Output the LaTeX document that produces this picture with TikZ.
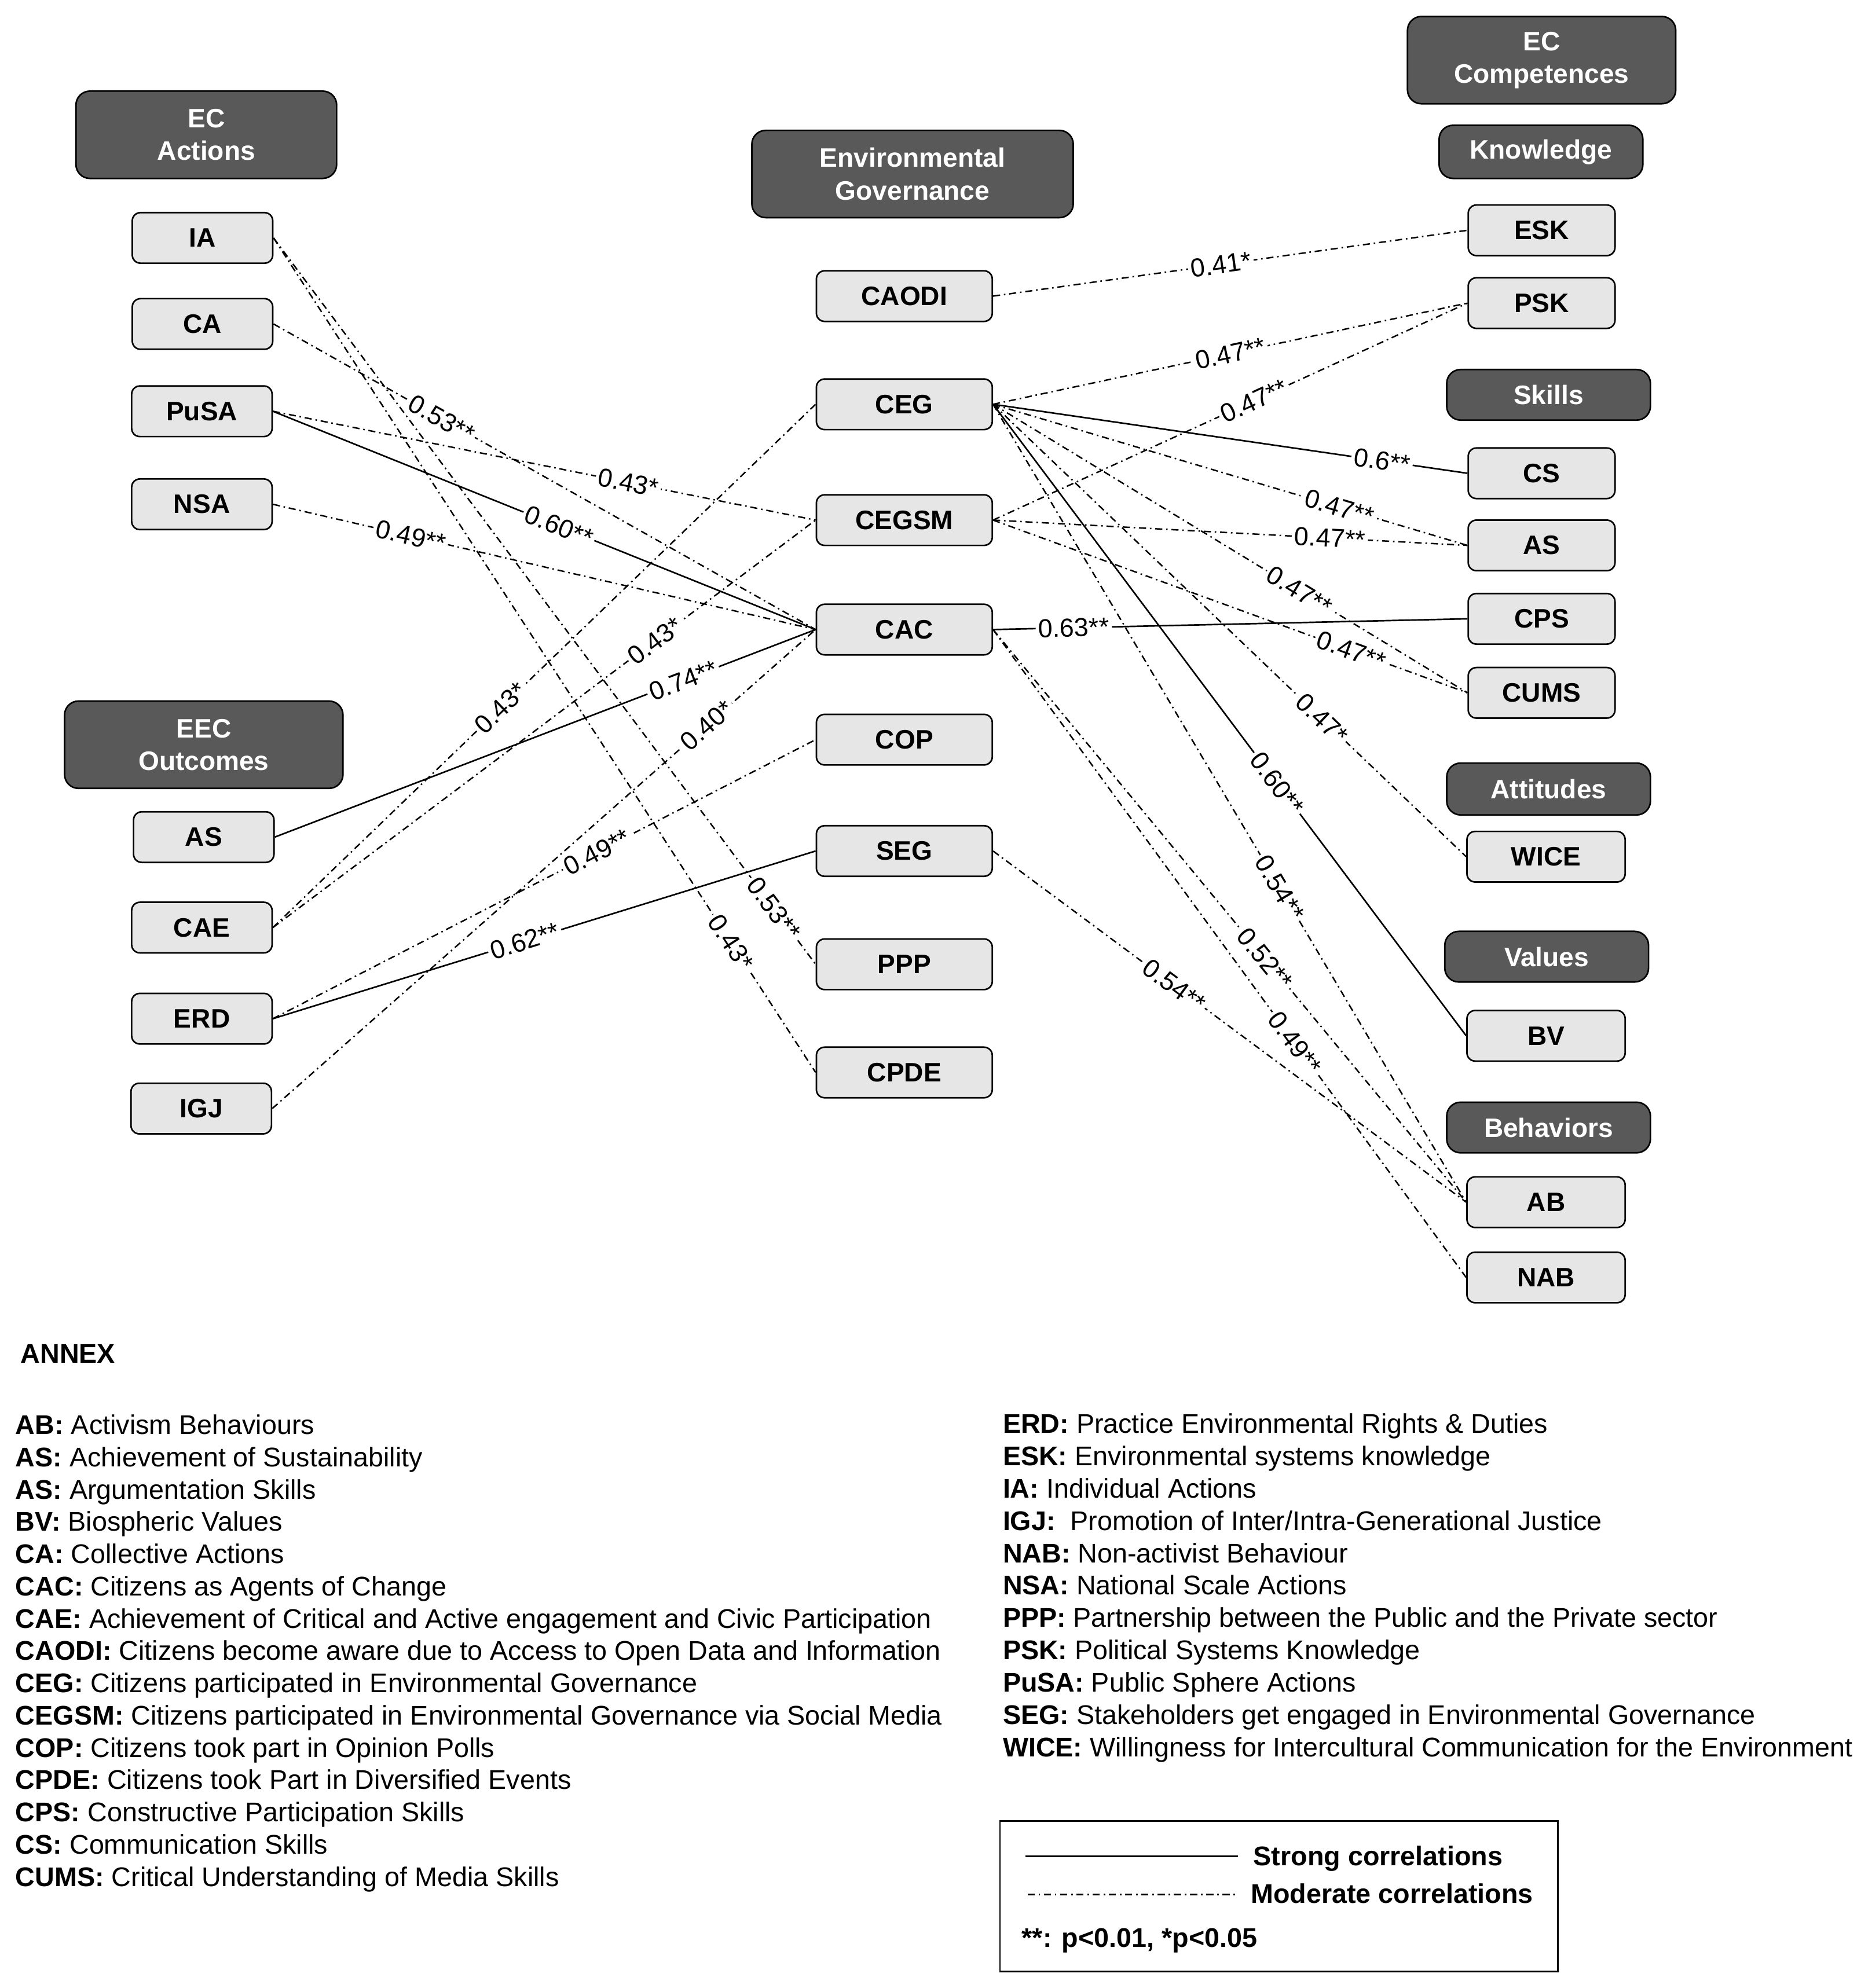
\documentclass[tikz,border=0pt]{standalone}
\usepackage{fontspec}
\setmainfont{Liberation Sans}
\definecolor{hdrgray}{RGB}{89,89,89}
\definecolor{itemgray}{RGB}{231,230,230}
\begin{document}
\begin{tikzpicture}[x=0.02cm,y=-0.02cm,
  hdr/.style={draw=black, line width=0.7pt, fill=hdrgray, rounded corners=0.22cm, text=white,
    font=\bfseries\fontsize{12}{14.6}\selectfont, align=center, inner sep=0pt},
  item/.style={draw=black, line width=0.7pt, fill=itemgray, rounded corners=0.13cm,
    font=\bfseries\fontsize{12}{14}\selectfont, inner sep=0pt, minimum height=0.8cm},
  lcol/.style={item, minimum width=2.22cm},
  mcol/.style={item, minimum width=2.78cm},
  rcol/.style={item, minimum width=2.32cm},
  rcolb/.style={item, minimum width=2.50cm},
  strong/.style={line width=0.7pt},
  moderate/.style={line width=0.65pt, dash pattern=on 3.2pt off 1.7pt on 0.7pt off 1.7pt},
  lbl/.style={fill=white, inner sep=1.2pt, font=\fontsize{11.7}{14}\selectfont, sloped},
  annex/.style={anchor=base west, inner sep=0pt, font=\fontsize{12.15}{14}\selectfont}
]
\useasboundingbox (0,0) rectangle (1470.3,1571);

% headers
\node[hdr, minimum width=4.12cm, minimum height=1.38cm] (ECA) at (163,106.5) {EC\\Actions};
\node[hdr, minimum width=4.40cm, minimum height=1.38cm] (EECO) at (161,588.5) {EEC\\Outcomes};
\node[hdr, minimum width=5.08cm, minimum height=1.38cm] (EG) at (721,137.5) {Environmental\\Governance};
\node[hdr, minimum width=4.24cm, minimum height=1.38cm] (ECC) at (1218,47.5) {EC\\Competences};
\node[hdr, minimum width=3.22cm, minimum height=0.84cm] (KNOW) at (1217.5,120) {Knowledge};
\node[hdr, minimum width=3.22cm, minimum height=0.80cm] (SKL) at (1223.5,312) {Skills};
\node[hdr, minimum width=3.22cm, minimum height=0.82cm] (ATT) at (1223.5,623.5) {Attitudes};
\node[hdr, minimum width=3.22cm, minimum height=0.80cm] (VAL) at (1222,756) {Values};
\node[hdr, minimum width=3.22cm, minimum height=0.80cm] (BEH) at (1223.5,891) {Behaviors};

% left column
\node[lcol] (IA) at (160,188) {IA};
\node[lcol] (CA) at (160,256) {CA};
\node[lcol] (PuSA) at (159.5,325) {PuSA};
\node[lcol] (NSA) at (159.5,398.5) {NSA};
\node[lcol] (ASa) at (161,661.5) {AS};
\node[lcol] (CAE) at (159.5,733) {CAE};
\node[lcol] (ERD) at (159.5,805) {ERD};
\node[lcol] (IGJ) at (159,876) {IGJ};

% middle column
\node[mcol] (CAODI) at (714.5,234) {CAODI};
\node[mcol] (CEG) at (714.5,319.5) {CEG};
\node[mcol] (CEGSM) at (714.5,411) {CEGSM};
\node[mcol] (CAC) at (714.5,497.5) {CAC};
\node[mcol] (COP) at (714.5,584.5) {COP};
\node[mcol] (SEG) at (714.5,672.5) {SEG};
\node[mcol] (PPP) at (714.5,762) {PPP};
\node[mcol] (CPDE) at (714.5,847.5) {CPDE};

% right column
\node[rcol] (ESK) at (1218,182) {ESK};
\node[rcol] (PSK) at (1218,239.5) {PSK};
\node[rcol] (CS) at (1218,374) {CS};
\node[rcol] (ASb) at (1218,431) {AS};
\node[rcol] (CPS) at (1218,489) {CPS};
\node[rcol] (CUMS) at (1218,547.5) {CUMS};
\node[rcolb] (WICE) at (1221.5,677) {WICE};
\node[rcolb] (BV) at (1221.5,818.5) {BV};
\node[rcolb] (AB) at (1221.5,950) {AB};
\node[rcolb] (NAB) at (1221.5,1009.5) {NAB};

% left connectors
\draw[moderate] (CA.east) -- node[lbl,pos=0.31]{0.53**} (CAC.west);
\draw[moderate] (PuSA.east) -- node[lbl,pos=0.655]{0.43*} (CEGSM.west);
\draw[strong] (PuSA.east) -- node[lbl,pos=0.527]{0.60**} (CAC.west);
\draw[moderate] (NSA.east) -- node[lbl,pos=0.254]{0.49**} (CAC.west);
\draw[moderate] (IA.east) -- node[lbl,pos=0.923]{0.53**} (PPP.west);
\draw[moderate] (IA.east) -- node[lbl,pos=0.844]{0.43*} (CPDE.west);
\draw[strong] (ASa.east) -- node[lbl,pos=0.755]{0.74**} (CAC.west);
\draw[moderate] (CAE.east) -- node[lbl,pos=0.42]{0.43*} (CEG.west);
\draw[moderate] (CAE.east) -- node[lbl,pos=0.704]{0.43*} (CEGSM.west);
\draw[moderate] (IGJ.east) -- node[lbl,pos=0.80]{0.40*} (CAC.west);
\draw[moderate] (ERD.east) -- node[lbl,pos=0.597]{0.49**} (COP.west);
\draw[strong] (ERD.east) -- node[lbl,pos=0.464]{0.62**} (SEG.west);

% right connectors
\draw[moderate] (CAODI.east) -- node[lbl,pos=0.48]{0.41*} (ESK.west);
\draw[moderate] (CEG.east) -- node[lbl,pos=0.50]{0.47**} (PSK.west);
\draw[moderate] (CEGSM.east) -- node[lbl,pos=0.55]{0.47**} (PSK.west);
\draw[strong] (CEG.east) -- node[lbl,pos=0.82]{0.6**} (CS.west);
\draw[moderate] (CEG.east) -- node[lbl,pos=0.73]{0.47**} (ASb.west);
\draw[moderate] (CEGSM.east) -- node[lbl,pos=0.71]{0.47**} (ASb.west);
\draw[moderate] (CEG.east) -- node[lbl,pos=0.646]{0.47**} (CUMS.west);
\draw[moderate] (CEGSM.east) -- node[lbl,pos=0.755]{0.47**} (CUMS.west);
\draw[moderate] (CEG.east) -- node[lbl,pos=0.695]{0.47*} (WICE.west);
\draw[strong] (CEG.east) -- node[lbl,pos=0.60]{0.60**} (BV.west);
\draw[moderate] (CEG.east) -- node[lbl,pos=0.606]{0.54**} (AB.west);
\draw[moderate] (CAC.east) -- node[lbl,pos=0.575]{0.52**} (AB.west);
\draw[moderate] (CAC.east) -- node[lbl,pos=0.638]{0.49**} (NAB.west);
\draw[moderate] (SEG.east) -- node[lbl,pos=0.383]{0.54**} (AB.west);
\draw[strong] (CAC.east) -- node[lbl,pos=0.17]{0.63**} (CPS.west);

% annex
\node[annex, font=\bfseries\fontsize{12.15}{14}\selectfont] (ANX) at (16,1077) {ANNEX};
\foreach \i/\a/\t in {0/AB/{Activism Behaviours},
  1/AS/{Achievement of Sustainability},
  2/AS/{Argumentation Skills},
  3/BV/{Biospheric Values},
  4/CA/{Collective Actions},
  5/CAC/{Citizens as Agents of Change},
  6/CAE/{Achievement of Critical and Active engagement and Civic Participation},
  7/CAODI/{Citizens become aware due to Access to Open Data and Information},
  8/CEG/{Citizens participated in Environmental Governance},
  9/CEGSM/{Citizens participated in Environmental Governance via Social Media},
  10/COP/{Citizens took part in Opinion Polls},
  11/CPDE/{Citizens took Part in Diversified Events},
  12/CPS/{Constructive Participation Skills},
  13/CS/{Communication Skills},
  14/CUMS/{Critical Understanding of Media Skills}}
  \node[annex] (L\i) at (12,1133.5+\i*25.5) {\textbf{\a:} \t};
\foreach \i/\a/\t in {0/ERD/{Practice Environmental Rights \& Duties},
  1/ESK/{Environmental systems knowledge},
  2/IA/{Individual Actions},
  3/IGJ/{\ Promotion of Inter/Intra-Generational Justice},
  4/NAB/{Non-activist Behaviour},
  5/NSA/{National Scale Actions},
  6/PPP/{Partnership between the Public and the Private sector},
  7/PSK/{Political Systems Knowledge},
  8/PuSA/{Public Sphere Actions},
  9/SEG/{Stakeholders get engaged in Environmental Governance},
  10/WICE/{Willingness for Intercultural Communication for the Environment}}
  \node[annex] (R\i) at (792,1132.5+\i*25.56) {\textbf{\a:} \t};

% legend
\node[draw=black, line width=0.7pt, minimum width=8.82cm, minimum height=2.38cm, inner sep=0pt] (LEG) at (1010.5,1498.5) {};
\coordinate (S1) at (810,1467);
\coordinate (S2) at (978,1467);
\coordinate (M1) at (812,1497);
\coordinate (M2) at (976,1497);
\draw[strong] (S1) -- (S2);
\draw[moderate] (M1) -- (M2);
\node[annex, font=\bfseries\fontsize{12.15}{14}\selectfont] (LS) at (990,1474) {Strong correlations};
\node[annex, font=\bfseries\fontsize{12.15}{14}\selectfont] (LM) at (988,1504) {Moderate correlations};
\node[annex, font=\bfseries\fontsize{12.15}{14}\selectfont] (LP) at (807,1538.5) {**: p<0.01, *p<0.05};
\end{tikzpicture}
\end{document}
